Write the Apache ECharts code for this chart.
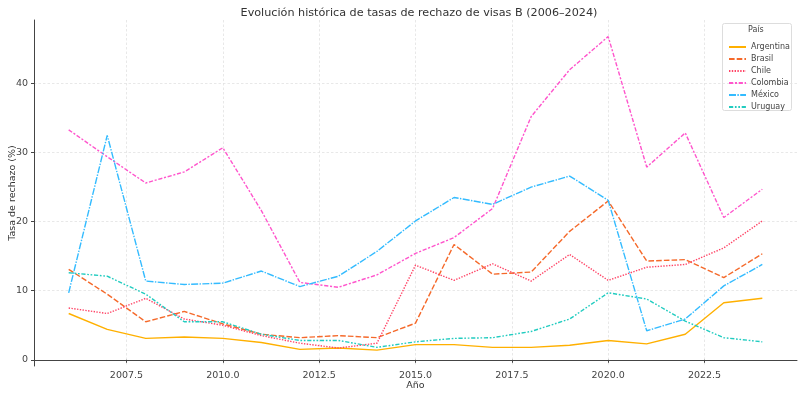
<!DOCTYPE html>
<html>
<head>
<meta charset="utf-8">
<script src="https://cdn.jsdelivr.net/npm/echarts@6/dist/echarts.min.js"></script>
<style>
html,body{margin:0;padding:0;background:#fff;}
#chart{width:800px;height:397px;}
</style>
</head>
<body>
<div id="chart"></div>
<script>
// años y tasas de rechazo (%) por país
var years = [2006,2007,2008,2009,2010,2011,2012,2013,2014,2015,2016,2017,2018,2019,2020,2021,2022,2023,2024];
var argentina = [6.7,4.4,3.1,3.3,3.1,2.5,1.5,1.7,1.4,2.2,2.2,1.8,1.8,2.1,2.8,2.3,3.7,8.25,8.9];
var brasil    = [13.1,9.5,5.5,7.0,5.2,3.7,3.2,3.5,3.2,5.3,16.7,12.4,12.7,18.6,23.0,14.3,14.5,11.9,15.35];
var chile     = [7.5,6.7,8.9,5.9,5.0,3.5,2.4,1.7,2.4,13.7,11.5,13.9,11.4,15.25,11.5,13.4,13.8,16.2,20.1];
var colombia  = [33.3,29.4,25.6,27.2,30.7,21.6,11.2,10.5,12.3,15.4,17.7,21.9,35.2,42.0,46.8,27.9,32.85,20.6,24.7];
var mexico    = [9.7,32.5,11.4,10.9,11.1,12.85,10.6,12.1,15.7,20.1,23.5,22.5,25.0,26.6,23.1,4.2,5.9,10.7,13.8];
var uruguay   = [12.6,12.1,9.5,5.5,5.5,3.7,2.8,2.8,1.8,2.6,3.1,3.2,4.1,5.9,9.7,8.8,5.6,3.2,2.6];
var xTicks = [2007.5,2010.0,2012.5,2015.0,2017.5,2020.0,2022.5];
var yTicks = [0,10,20,30,40];

var font = 'DejaVu Sans';

function pairs(vals) {
	return years.map(function (y, i) { return [y, vals[i]]; });
}

function mkSeries(name, vals, color, dash) {
	return {
		name: name,
		type: 'line',
		data: pairs(vals),
		symbol: 'none',
		animation: false,
		lineStyle: { color: color, width: 1.4, type: dash },
		itemStyle: { color: color }
	};
}

var option = {
	backgroundColor: '#fff',
	title: {
		text: 'Evolución histórica de tasas de rechazo de visas B (2006–2024)',
		left: 414, top: 3, textAlign: 'center',
		textStyle: { fontFamily: font, fontSize: 11.2, fontWeight: 'normal', color: '#333' }
	},
	grid: { left: 34, right: 3, top: 20, bottom: 31, containLabel: false, outerBoundsMode: 'none' },
	xAxis: {
		type: 'value', min: 2005.1, max: 2024.9,
		name: 'Año', nameLocation: 'middle', nameGap: 15, nameMoveOverlap: false,
		nameTextStyle: { fontFamily: font, fontSize: 9.5, color: '#333' },
		axisLine: { show: true, lineStyle: { color: '#444', width: 1 } },
		axisTick: { show: true, length: 3, lineStyle: { color: '#444' }, customValues: xTicks },
		axisLabel: {
			fontFamily: font, fontSize: 9.5, color: '#444', margin: 5,
			customValues: xTicks,
			formatter: function (v) { return v.toFixed(1); }
		},
		splitLine: { show: true, lineStyle: { color: '#e2e2e2', width: 0.8, type: [2.5, 2] } }
	},
	yAxis: {
		type: 'value', min: -0.9, max: 49.2,
		name: 'Tasa de rechazo (%)', nameLocation: 'middle', nameGap: 16, nameMoveOverlap: false,
		nameTextStyle: { fontFamily: font, fontSize: 9.5, color: '#333' },
		axisLine: { show: true, lineStyle: { color: '#444', width: 1 } },
		axisTick: { show: true, length: 3, lineStyle: { color: '#444' }, customValues: yTicks },
		axisLabel: { fontFamily: font, fontSize: 9.5, color: '#444', margin: 6, customValues: yTicks },
		splitLine: { show: true, lineStyle: { color: '#e2e2e2', width: 0.8, type: [2.5, 2] } }
	},
	legend: {
		orient: 'vertical', left: 723, top: 37,
		itemWidth: 17, itemHeight: 8, itemGap: 2,
		itemStyle: { opacity: 0 },
		textStyle: { fontFamily: font, fontSize: 8, color: '#444', lineHeight: 10 },
		data: ['Argentina', 'Brasil', 'Chile', 'Colombia', 'México', 'Uruguay']
	},
	graphic: [
		{ type: 'rect', left: 722, top: 23, z: 0,
		  shape: { width: 69, height: 87, r: 2 },
		  style: { fill: 'rgba(255,255,255,0.85)', stroke: '#ddd', lineWidth: 1 } },
		{ type: 'text', left: 748, top: 26, z: 10,
		  style: { text: 'País', fontFamily: font, fontSize: 8, fill: '#444' } }
	],
	series: [
		mkSeries('Argentina', argentina, '#FFB000', 'solid'),
		mkSeries('Brasil', brasil, '#F5692A', [5.6, 2.1]),
		mkSeries('Chile', chile, '#FF4466', [1.4, 1.4]),
		mkSeries('Colombia', colombia, '#FF55CC', [4.2, 1.7, 2.1, 1.7]),
		mkSeries('México', mexico, '#33BBFF', [7, 1.4, 1.4, 1.4]),
		mkSeries('Uruguay', uruguay, '#22CCC0', [4.2, 1.7, 1.7, 1.7, 1.7, 1.7])
	]
};

var myChart = echarts.init(document.getElementById('chart'));
myChart.setOption(option, true);
</script>
</body>
</html>
